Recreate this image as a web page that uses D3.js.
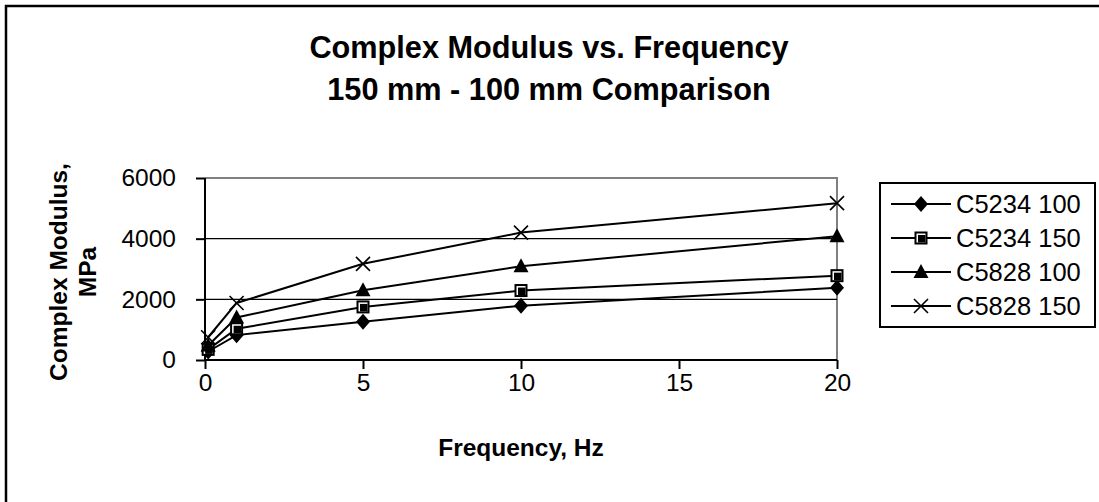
<!DOCTYPE html>
<html>
<head>
<meta charset="utf-8">
<script src="https://cdn.jsdelivr.net/npm/d3@7"></script>
<style>
  html, body { margin: 0; padding: 0; background: #fff; }
  svg { display: block; font-family: "Liberation Sans", Arial, sans-serif; }
</style>
</head>
<body>
<svg id="chart" width="1099" height="502"></svg>
<script>
// Frequencies (Hz) and complex modulus (MPa) for each specimen
const frequency = [0.1, 1, 5, 10, 20];
const c5234_100 = [280, 820, 1260, 1790, 2380];
const c5234_150 = [350, 1030, 1750, 2290, 2780];
const c5828_100 = [480, 1400, 2300, 3090, 4080];
const c5828_150 = [750, 1880, 3170, 4200, 5170];

const seriesNames = ["C5234 100", "C5234 150", "C5828 100", "C5828 150"];
const seriesValues = [c5234_100, c5234_150, c5828_100, c5828_150];
const markerTypes = ["diamond", "square", "triangle", "cross"];

const xTicks = [0, 5, 10, 15, 20];
const yTicks = [0, 2000, 4000, 6000];

const titleLines = ["Complex Modulus vs. Frequency", "150 mm - 100 mm Comparison"];
const xTitle = "Frequency, Hz";
const yTitleLines = ["Complex Modulus,", "MPa"];

const svg = d3.select("#chart");

// outer chart frame (runs past the right and bottom edges)
svg.append("rect")
  .attr("x", 6).attr("y", 6).attr("width", 1110).attr("height", 520)
  .attr("fill", "none").attr("stroke", "#000").attr("stroke-width", 2.5);

const plot = { left: 205, right: 837, top: 178, bottom: 360 };

const x = d3.scaleLinear().domain([0, 20]).range([plot.left, plot.right]);
const y = d3.scaleLinear().domain([0, 6000]).range([plot.bottom, plot.top]);

// title
svg.append("g").selectAll("text").data(titleLines).join("text")
  .attr("x", 549).attr("y", (d, i) => 58 + i * 42)
  .attr("text-anchor", "middle")
  .attr("font-size", 30.7).attr("font-weight", "bold")
  .text(d => d);

// plot frame: grey top and right edges
svg.append("path")
  .attr("d", `M${plot.left},${plot.top}H${plot.right}V${plot.bottom}`)
  .attr("fill", "none").attr("stroke", "#808080").attr("stroke-width", 2);

// horizontal gridlines
svg.append("g").selectAll("line").data(yTicks.filter(v => v > 0 && v < 6000)).join("line")
  .attr("x1", plot.left).attr("x2", plot.right)
  .attr("y1", d => y(d)).attr("y2", d => y(d))
  .attr("stroke", "#000").attr("stroke-width", 1.2);

// axes
const xAxis = d3.axisBottom(x).tickValues(xTicks).tickSize(9).tickPadding(5).tickFormat(d3.format("d"));
const yAxis = d3.axisLeft(y).tickValues(yTicks).tickSize(9).tickPadding(20).tickFormat(d3.format("d"));

const gx = svg.append("g").attr("transform", `translate(0,${plot.bottom})`).call(xAxis);
const gy = svg.append("g").attr("transform", `translate(${plot.left},0)`).call(yAxis);
[gx, gy].forEach(g => {
  g.select(".domain").attr("stroke", "#000").attr("stroke-width", 2);
  g.selectAll(".tick line").attr("stroke", "#000").attr("stroke-width", 2);
  g.selectAll(".tick text").attr("fill", "#000").attr("font-size", 24.5)
    .attr("font-family", "Liberation Sans, Arial, sans-serif");
});
gx.select(".domain").attr("d", `M${plot.left},0H${plot.right}`);
gy.select(".domain").attr("d", `M0,${plot.bottom}V${plot.top}`);

// axis titles
svg.append("text")
  .attr("x", 521).attr("y", 456).attr("text-anchor", "middle")
  .attr("font-size", 24.5).attr("font-weight", "bold")
  .text(xTitle);

svg.append("g").selectAll("text").data(yTitleLines).join("text")
  .attr("transform", (d, i) => `translate(${67 + i * 29},272) rotate(-90)`)
  .attr("text-anchor", "middle")
  .attr("font-size", 24.5).attr("font-weight", "bold")
  .text(d => d);

// marker drawing
function drawMarker(g, type) {
  if (type === "diamond") {
    g.append("path").attr("d", "M0,-8L7,0L0,8L-7,0Z").attr("fill", "#000");
  } else if (type === "square") {
    g.append("rect").attr("x", -6.5).attr("y", -6.5).attr("width", 13).attr("height", 13).attr("fill", "#000");
    g.append("rect").attr("x", -4.5).attr("y", -4.5).attr("width", 9).attr("height", 9).attr("fill", "#fff");
    g.append("rect").attr("x", -3).attr("y", -3).attr("width", 7.5).attr("height", 7.5).attr("fill", "#000");
  } else if (type === "triangle") {
    g.append("path").attr("d", "M0,-8L7.5,6L-7.5,6Z").attr("fill", "#000");
  } else {
    g.append("path").attr("d", "M-7,-7L7,7M-7,7L7,-7").attr("stroke", "#000").attr("stroke-width", 1.6).attr("fill", "none");
  }
}

const line = d3.line().x(d => x(d[0])).y(d => y(d[1]));

seriesValues.forEach((vals, s) => {
  const pts = frequency.map((f, i) => [f, vals[i]]);
  svg.append("path").datum(pts)
    .attr("d", line).attr("fill", "none")
    .attr("stroke", "#000").attr("stroke-width", 2);
  pts.forEach(p => {
    const g = svg.append("g").attr("transform", `translate(${x(p[0])},${y(p[1])})`);
    drawMarker(g, markerTypes[s]);
  });
});

// legend
const legend = svg.append("g");
legend.append("rect")
  .attr("x", 880).attr("y", 183).attr("width", 215).attr("height", 144)
  .attr("fill", "#fff").attr("stroke", "#000").attr("stroke-width", 2);

seriesNames.forEach((name, i) => {
  const cy = 204 + i * 34;
  legend.append("line").attr("x1", 891).attr("x2", 951).attr("y1", cy).attr("y2", cy)
    .attr("stroke", "#000").attr("stroke-width", 2);
  const g = legend.append("g").attr("transform", `translate(921,${cy})`);
  drawMarker(g, markerTypes[i]);
  legend.append("text").attr("x", 956).attr("y", cy).attr("dy", "0.36em")
    .attr("font-size", 25.5).text(name);
});
</script>
</body>
</html>
